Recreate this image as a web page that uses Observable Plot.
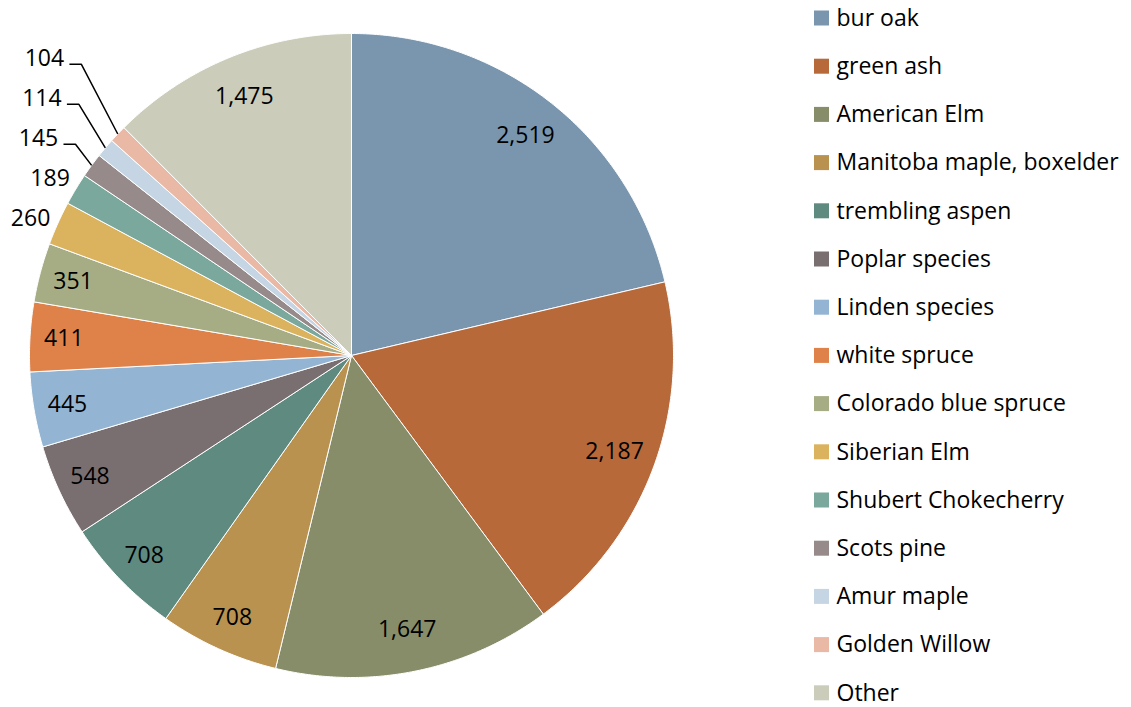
<!DOCTYPE html>
<html>
<head>
<meta charset="utf-8">
<script src="https://cdn.jsdelivr.net/npm/d3@7"></script>
<script src="https://cdn.jsdelivr.net/npm/@observablehq/plot@0.6"></script>
<style>
  html, body { margin: 0; padding: 0; background: #fff; }
  #chart svg { display: block; }
</style>
</head>
<body>
<div id="chart"></div>
<script>
// ---- data ----
const categories = [
  "bur oak", "green ash", "American Elm", "Manitoba maple, boxelder", "trembling aspen",
  "Poplar species", "Linden species", "white spruce", "Colorado blue spruce", "Siberian Elm",
  "Shubert Chokecherry", "Scots pine", "Amur maple", "Golden Willow", "Other"
];
const values = [2519, 2187, 1647, 708, 708, 548, 445, 411, 351, 260, 189, 145, 114, 104, 1475];
const colors = [
  "#7a96ae", "#b7693a", "#878d69", "#b8924e", "#5f8a80",
  "#7a6f70", "#93b4d2", "#df824a", "#a6ad84", "#dbb35e",
  "#7aa89c", "#968a8b", "#c5d5e4", "#e9b9a6", "#cbcdba"
];

// ---- layout ----
const W = 1131, H = 707;
const cx = 351, cy = 355, R = 322;
const FONT = "'Open Sans', Lato, sans-serif";
const FS = 23;
const fmt = d3.format(",");

const arcs = d3.pie().sort(null).value(d => d)(values);

// wedge polygons
const wedges = [];
arcs.forEach((a, i) => {
  wedges.push({k: i, x: cx, y: cy, c: colors[i]});
  const n = Math.max(2, Math.ceil((a.endAngle - a.startAngle) / (Math.PI / 360)));
  for (let j = 0; j <= n; j++) {
    const t = a.startAngle + (a.endAngle - a.startAngle) * j / n;
    wedges.push({k: i, x: cx + R * Math.sin(t), y: cy - R * Math.cos(t), c: colors[i]});
  }
  wedges.push({k: i, x: cx, y: cy, c: colors[i]});
});

// labels
const total = d3.sum(values);
const labels = [];
const outside = [];
arcs.forEach((a, i) => {
  const m = (a.startAngle + a.endAngle) / 2;
  const s = Math.sin(m), c = Math.cos(m);
  if (values[i] / total > 0.025) {
    const rr = values[i] / total > 0.12 ? 0.87 : 0.895;
    labels.push({x: cx + rr * R * s, y: cy - rr * R * c, t: fmt(values[i])});
  } else {
    outside.push({i, s, c, x: cx + (R + 30) * s, y: cy - (R + 12) * c});
  }
});
// dodge outside labels upward (they sit on the upper left)
outside.sort((p, q) => q.y - p.y);
const leaders = [];
let prevY = Infinity;
outside.forEach((o, idx) => {
  let y = Math.min(o.y, prevY - 40);
  let x = o.x;
  if (o.y - y > 10) {
    const t = (cy - y) / o.c;
    x = (cx + t * o.s + o.x - 45) / 2;
    const ex = cx + R * o.s, ey = cy - R * o.c;
    leaders.push({g: idx, x: ex, y: ey});
    leaders.push({g: idx, x: x + 37, y: y + 6});
    leaders.push({g: idx, x: x + 25, y: y + 6});
  }
  prevY = y;
  labels.push({x, y, t: fmt(values[o.i])});
});

// legend
const legend = categories.map((name, i) => ({name, c: colors[i], y: 18 + i * 48.2}));

const chart = Plot.plot({
  width: W,
  height: H,
  margin: 0,
  x: {domain: [0, W], range: [0, W], axis: null},
  y: {domain: [0, H], range: [0, H], axis: null},
  color: {type: "identity"},
  style: {fontFamily: FONT, background: "#fff"},
  marks: [
    Plot.line(wedges, {x: "x", y: "y", z: "k", fill: "c", stroke: "white", strokeWidth: 1, curve: "linear"}),
    Plot.line(leaders, {x: "x", y: "y", z: "g", stroke: "black", strokeWidth: 1.5, strokeLinecap: "butt", strokeLinejoin: "miter"}),
    Plot.text(labels, {x: "x", y: "y", text: "t", fontSize: FS, fill: "black", textAnchor: "middle"}),
    Plot.rect(legend, {x1: 814, x2: 829, y1: d => d.y - 7.5, y2: d => d.y + 7.5, fill: "c"}),
    Plot.text(legend, {x: 836, y: "y", text: "name", fontSize: FS, fill: "black", textAnchor: "start"})
  ]
});
document.getElementById("chart").appendChild(chart);
</script>
</body>
</html>
